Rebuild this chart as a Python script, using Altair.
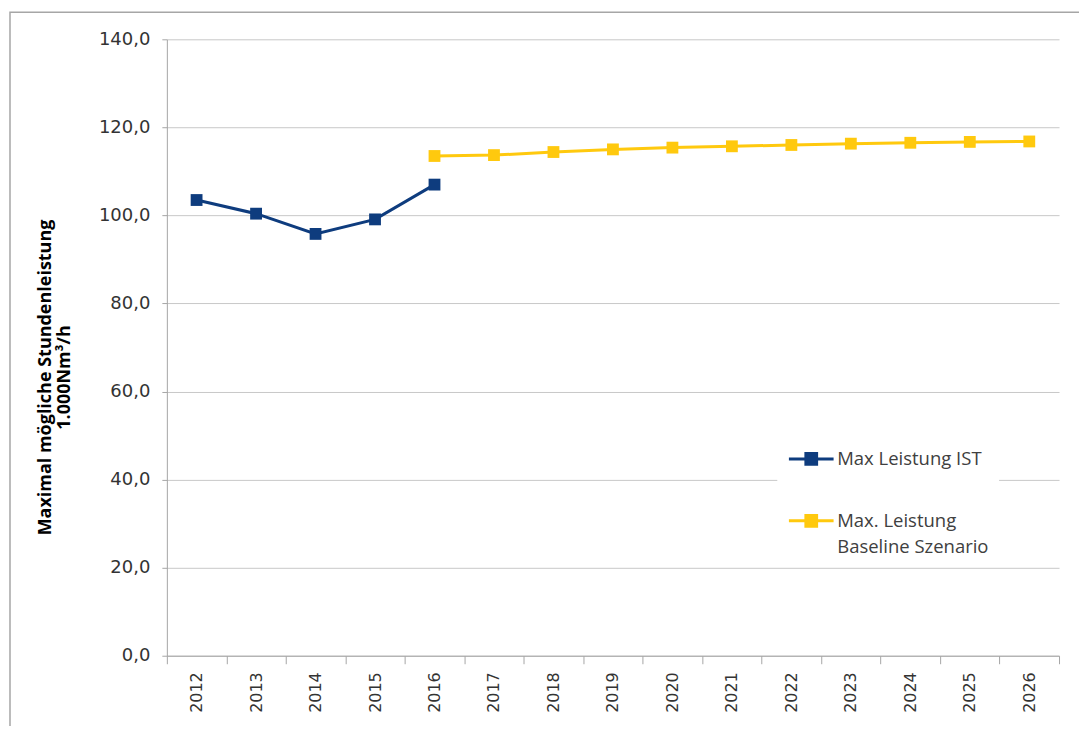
import altair as alt
import pandas as pd

years = [str(y) for y in range(2012, 2027)]
ist_years = ["2012", "2013", "2014", "2015", "2016"]
ist_values = [103.5, 100.4, 95.8, 99.1, 107.0]
base_years = years[4:]
base_values = [113.5, 113.7, 114.4, 115.0, 115.4, 115.7, 116.0, 116.3, 116.5, 116.7, 116.8]
series_names = ["Max Leistung IST", "Max. Leistung Baseline Szenario"]
colors = ["#0E3C7E", "#FFC90E"]

df = pd.concat([
    pd.DataFrame({"Jahr": ist_years, "Wert": ist_values, "Serie": series_names[0]}),
    pd.DataFrame({"Jahr": base_years, "Wert": base_values, "Serie": series_names[1]}),
])

x_enc = alt.X("Jahr:N", sort=years, scale=alt.Scale(domain=years, paddingInner=0, paddingOuter=0),
              axis=alt.Axis(title=None, labelAngle=270, labelAlign="right", labelBaseline="middle",
                            labelPadding=8, labelFont="DejaVu Sans", labelFontSize=16,
                            labelColor="#333333", tickBand="extent", tickSize=8,
                            tickColor="#A6A6A6", domainColor="#A6A6A6", grid=False))
y_enc = alt.Y("Wert:Q", scale=alt.Scale(domain=[0, 140]),
              axis=alt.Axis(values=[0, 20, 40, 60, 80, 100, 120, 140],
                            labelExpr="replace(format(datum.value, '.1f'), '.', ',')",
                            labelFont="DejaVu Sans", labelFontSize=18, labelColor="#333333",
                            labelPadding=12, tickSize=5, tickColor="#A6A6A6",
                            domainColor="#A6A6A6", gridColor="#C8C8C8",
                            title=["Maximal mögliche Stundenleistung", "1.000Nm³/h"],
                            titleFont="Open Sans", titleFontSize=18, titleFontWeight="bold",
                            titleColor="#000000", titleLineHeight=19,
                            titleX=-112, titleY=338, titleAlign="center",
                            titleBaseline="bottom", titleAngle=270))
color_enc = alt.Color("Serie:N", scale=alt.Scale(domain=series_names, range=colors),
                      legend=alt.Legend(title=None, orient="none", legendX=611, legendY=386,
                                        fillColor="white", padding=10,
                                        symbolType="M-1,0H1M-0.24,-0.24H0.24V0.24H-0.24Z",
                                        symbolSize=2000, symbolStrokeWidth=3,
                                        labelFont="Open Sans", labelFontSize=18.5,
                                        labelColor="#404040", labelLimit=300,
                                        rowPadding=26, labelOffset=2,
                                        labelExpr="datum.label == 'Max. Leistung Baseline Szenario' ? ['Max. Leistung', 'Baseline Szenario'] : datum.label"))

base = alt.Chart(df)
lines = base.mark_line(strokeWidth=3).encode(x=x_enc, y=y_enc, color=color_enc, detail="Serie:N")
points = base.mark_square(size=140, opacity=1, filled=True).encode(
    x=alt.X("Jahr:N", sort=years), y="Wert:Q",
    color=alt.Color("Serie:N", scale=alt.Scale(domain=series_names, range=colors), legend=None))

frame = alt.Chart(pd.DataFrame({"a": [0]})).mark_rect(fill=None, stroke="#A6A6A6", strokeWidth=1.5).encode(
    x=alt.value(-157), x2=alt.value(940), y=alt.value(-27), y2=alt.value(740))

chart = alt.layer(frame, lines, points).properties(
    width=893, height=617,
    padding={"left": 159, "top": 31, "right": 20, "bottom": 70},
    autosize=alt.AutoSizeParams(type="none"),
).configure(
    style={"guide-label": {"lineHeight": 26}}
).configure_view(stroke=None)

chart.save("out.html", embed_options={"renderer": "svg", "actions": False})
